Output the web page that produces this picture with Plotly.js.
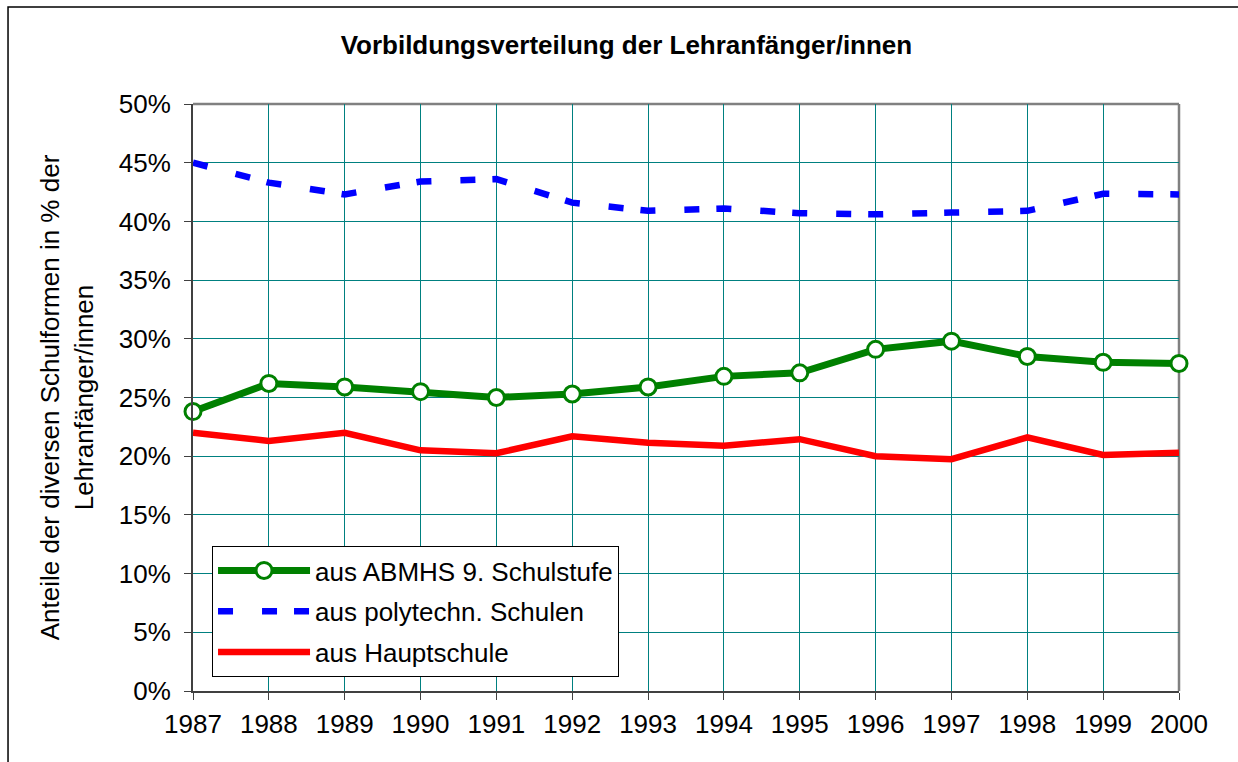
<!DOCTYPE html>
<html>
<head>
<meta charset="utf-8">
<script src="https://cdn.plot.ly/plotly-3.0.1.min.js"></script>
<style>
html,body{margin:0;padding:0;background:#fff;}
#chart{width:1238px;height:762px;}
</style>
</head>
<body>
<div id="chart"></div>
<script>
const years = [1987,1988,1989,1990,1991,1992,1993,1994,1995,1996,1997,1998,1999,2000];
const abmhs = [23.8,26.2,25.9,25.5,25.0,25.3,25.9,26.8,27.1,29.1,29.8,28.5,28.0,27.9];
const polytechn = [45.0,43.3,42.3,43.4,43.6,41.6,40.9,41.1,40.7,40.6,40.75,40.9,42.35,42.3];
const hauptschule = [22.0,21.3,22.0,20.5,20.25,21.7,21.15,20.9,21.45,20.0,19.75,21.6,20.1,20.3];
const seriesNames = ['aus ABMHS 9. Schulstufe','aus polytechn. Schulen','aus Hauptschule'];
const yTicks = [0,5,10,15,20,25,30,35,40,45,50];
const yTickText = yTicks.map(v => v + '%');

const FONT = 'Arial, "Liberation Sans", sans-serif';

const traces = [
  {x: years, y: abmhs, name: seriesNames[0], type: 'scatter', mode: 'lines+markers',
   line: {color: '#008000', width: 7},
   marker: {symbol: 'circle', size: 16, color: '#ffffff', line: {color: '#008000', width: 3}},
   cliponaxis: false, legendgroup: 'a'},
  {x: years, y: polytechn, name: seriesNames[1], type: 'scatter', mode: 'lines',
   line: {color: '#0000ff', width: 6.5, dash: '15px,29px,15px,17px'},
   cliponaxis: false, legendgroup: 'b'},
  {x: years, y: hauptschule, name: seriesNames[2], type: 'scatter', mode: 'lines',
   line: {color: '#ff0000', width: 6.5},
   cliponaxis: false, legendgroup: 'c'}
];

const layout = {
  width: 1238, height: 762,
  margin: {l: 193, r: 59, t: 104, b: 71},
  paper_bgcolor: '#ffffff', plot_bgcolor: '#ffffff',
  font: {family: FONT, size: 26, color: '#000'},
  showlegend: true,
  title: {text: '<b>Vorbildungsverteilung der Lehranfänger/innen</b>',
          font: {family: FONT, size: 26, color: '#000'},
          xref: 'container', x: 0.506, xanchor: 'center',
          yref: 'container', y: 1 - 45/762, yanchor: 'middle'},
  xaxis: {range: [years[0], years[years.length-1]], tickvals: years, ticktext: years.map(String),
          showgrid: true, gridcolor: '#008080', gridwidth: 1,
          showline: true, linecolor: '#404040', linewidth: 2,
          ticks: 'outside', ticklen: 7, tickcolor: '#404040', tickwidth: 1,
          ticklabelstandoff: 2,
          tickfont: {family: FONT, size: 26, color: '#000'}, zeroline: false, fixedrange: true},
  yaxis: {range: [0, 50], tickvals: yTicks, ticktext: yTickText,
          showgrid: true, gridcolor: '#008080', gridwidth: 1,
          showline: true, linecolor: '#404040', linewidth: 2,
          ticks: 'outside', ticklen: 7, tickcolor: '#404040', tickwidth: 1,
          ticklabelstandoff: 8,
          tickfont: {family: FONT, size: 26, color: '#000'}, zeroline: false, fixedrange: true,
          title: {text: 'Anteile der diversen Schulformen in % der<br>Lehranfänger/innen',
                  font: {family: FONT, size: 26, color: '#000'}, standoff: 18}},
  legend: {x: 0.0193, y: 0.247, xanchor: 'left', yanchor: 'top',
           bgcolor: '#ffffff', bordercolor: '#000000', borderwidth: 1,
           font: {family: FONT, size: 26, color: '#000'},
           traceorder: 'grouped', tracegroupgap: 4, itemwidth: 92},
  shapes: [
    {type: 'line', xref: 'paper', yref: 'paper', x0: 0, x1: 1, y0: 1, y1: 1,
     line: {color: '#808080', width: 2.5}, layer: 'between'},
    {type: 'line', xref: 'paper', yref: 'paper', x0: 1, x1: 1, y0: 0, y1: 1,
     line: {color: '#808080', width: 2.5}, layer: 'between'},
    {type: 'rect', xref: 'paper', yref: 'paper', x0: -0.1876, x1: 1.07, y0: -0.14, y1: 1 + 97/587,
     line: {color: '#000000', width: 1.5}, fillcolor: 'rgba(0,0,0,0)', layer: 'below'}
  ]
};

Plotly.newPlot('chart', traces, layout, {displayModeBar: false, staticPlot: true});
</script>
</body>
</html>
